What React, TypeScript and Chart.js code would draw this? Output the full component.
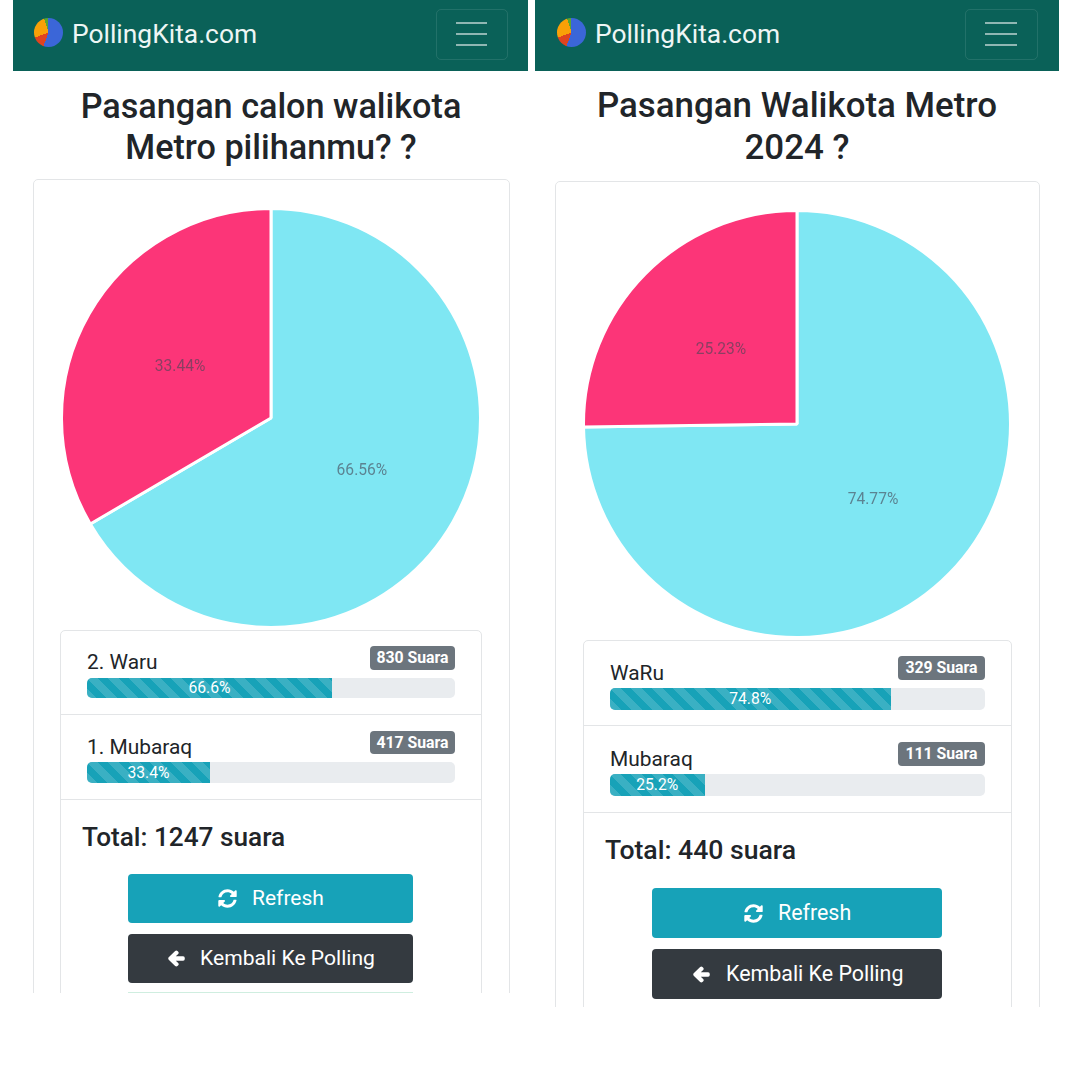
import React, { useEffect, useRef } from "react";
import { Chart, registerables } from "chart.js";

Chart.register(...registerables);

const brandName = "PollingKita.com";
const sliceColors = ["#7fe7f3", "#fc3578"];

const leftTitle = ["Pasangan calon walikota", "Metro pilihanmu? ?"];
const leftLabels = ["2. Waru", "1. Mubaraq"];
const leftVotes = [830, 417];

const rightTitle = ["Pasangan Walikota Metro", "2024 ?"];
const rightLabels = ["WaRu", "Mubaraq"];
const rightVotes = [329, 111];

const refreshText = "Refresh";
const backText = "Kembali Ke Polling";

const FONT = "Roboto, sans-serif";

const labelPlugin = {
  id: "pctLabels",
  afterDatasetsDraw(chart: any) {
    const { ctx } = chart;
    const meta = chart.getDatasetMeta(0);
    const data = chart.data.datasets[0].data as number[];
    const total = data.reduce((a, b) => a + b, 0);
    ctx.save();
    ctx.font = `15.6px ${FONT}`;
    ctx.fillStyle = "rgba(70,70,85,0.62)";
    ctx.textAlign = "center";
    ctx.textBaseline = "middle";
    meta.data.forEach((arc: any, i: number) => {
      const p = arc.getCenterPoint();
      ctx.fillText(((data[i] / total) * 100).toFixed(2) + "%", p.x, p.y + 1);
    });
    ctx.restore();
  },
};

function Pie({ cx, cy, size, labels, values }: any) {
  const ref = useRef<HTMLCanvasElement>(null);
  useEffect(() => {
    const chart = new Chart(ref.current!, {
      type: "pie",
      data: {
        labels,
        datasets: [{ data: values, backgroundColor: sliceColors, borderColor: "#fff", borderWidth: 3 }],
      },
      options: {
        animation: false,
        responsive: false,
        layout: { padding: 0 },
        plugins: { legend: { display: false }, tooltip: { enabled: false }, title: { display: false } },
      },
      plugins: [labelPlugin],
    } as any);
    return () => chart.destroy();
  }, []);
  return (
    <canvas
      ref={ref}
      width={size}
      height={size}
      style={{ position: "absolute", left: cx - size / 2, top: cy - size / 2, width: size, height: size }}
    />
  );
}

function T({ x, cy, size, weight = 400, color = "#212529", align = "left", children }: any) {
  const style: any = {
    position: "absolute",
    top: cy - 30,
    height: 60,
    lineHeight: "60px",
    fontFamily: FONT,
    fontSize: size,
    fontWeight: weight,
    color,
    whiteSpace: "nowrap",
  };
  if (align === "center") {
    style.left = x - 400;
    style.width = 800;
    style.textAlign = "center";
  } else {
    style.left = x;
  }
  return <div style={style}>{children}</div>;
}

function Box(p: any) {
  const { x0, x1, y0, y1, style } = p;
  return (
    <div
      style={{ position: "absolute", boxSizing: "border-box", left: x0, top: y0, width: x1 - x0, height: y1 - y0, ...style }}
    >
      {p.children}
    </div>
  );
}

function Header({ x0, x1, logoX, logoY, textX, btnX0, btnX1 }: any) {
  const barX0 = btnX0 + 20;
  const barW = btnX1 - btnX0 - 41;
  return (
    <>
      <Box x0={x0} x1={x1} y0={0} y1={71} style={{ background: "#0a6158" }} />
      <div
        style={{
          position: "absolute",
          left: logoX - 14.7,
          top: logoY - 14.7,
          width: 29.4,
          height: 29.4,
          borderRadius: "50%",
          background:
            "conic-gradient(#3b66d8 0deg 200deg, #e0431f 200deg 250deg, #f9a007 250deg 342deg, #5da52e 342deg 360deg)",
        }}
      />
      <T x={textX} cy={33.5} size={26.4} color="#eef6f5">
        {brandName}
      </T>
      <Box
        x0={btnX0}
        x1={btnX1}
        y0={9}
        y1={60}
        style={{ border: "1px solid rgba(255,255,255,0.1)", borderRadius: 5 }}
      />
      {[23, 34, 45].map((y) => (
        <Box key={y} x0={barX0} x1={barX0 + barW} y0={y - 1} y1={y + 1} style={{ background: "rgba(255,255,255,0.55)" }} />
      ))}
    </>
  );
}

const line = "#e3e5e7";

function Row({ x0, x1, barY0, barY1, labelCy, label, votes, total, badgeX0, badgeY0, badgeY1 }: any) {
  const pct = (votes / total) * 100;
  const w = x1 - x0;
  const rounded = pct.toFixed(1);
  return (
    <>
      <T x={x0} cy={labelCy} size={20.9}>
        {label}
      </T>
      <Box
        x0={badgeX0}
        x1={x1}
        y0={badgeY0}
        y1={badgeY1}
        style={{ background: "#6c757d", borderRadius: 4, overflow: "hidden" }}
      >
        <div
          style={{
            lineHeight: `${badgeY1 - badgeY0}px`,
            textAlign: "center",
            color: "#fff",
            fontFamily: FONT,
            fontWeight: 700,
            fontSize: 15.8,
            whiteSpace: "nowrap",
          }}
        >
          {votes} Suara
        </div>
      </Box>
      <Box x0={x0} x1={x1} y0={barY0} y1={barY1} style={{ background: "#e9ecef", borderRadius: 5, overflow: "hidden" }}>
        <div
          style={{
            width: (w * Number(rounded)) / 100,
            height: "100%",
            backgroundColor: "#17a2b8",
            backgroundImage:
              "linear-gradient(45deg, rgba(255,255,255,.15) 25%, transparent 25%, transparent 50%, rgba(255,255,255,.15) 50%, rgba(255,255,255,.15) 75%, transparent 75%, transparent)",
            backgroundSize: "21px 21px",
            color: "#fff",
            textAlign: "center",
            lineHeight: `${barY1 - barY0}px`,
            fontFamily: FONT,
            fontSize: 15.7,
          }}
        >
          {rounded}%
        </div>
      </Box>
    </>
  );
}

const refreshPath =
  "M370.72 133.28C339.458 104.008 298.888 87.962 255.848 88c-77.458.068-144.328 53.178-162.791 126.85-1.344 5.363-6.122 9.15-11.651 9.15H24.103c-7.498 0-13.194-6.807-11.807-14.176C33.933 94.924 134.813 8 256 8c66.448 0 126.791 26.136 171.315 68.685L463.03 40.97C478.149 25.851 504 36.559 504 57.941V192c0 13.255-10.745 24-24 24H345.941c-21.382 0-32.09-25.851-16.971-40.971l41.75-41.749zM32 296h134.059c21.382 0 32.09 25.851 16.971 40.971l-41.75 41.75c31.262 29.273 71.835 45.319 114.876 45.28 77.418-.07 144.315-53.144 162.787-126.849 1.344-5.363 6.122-9.15 11.651-9.15h57.304c7.498 0 13.194 6.807 11.807 14.176C478.067 417.076 377.187 504 256 504c-66.448 0-126.791-26.136-171.315-68.685L48.97 471.03C33.851 486.149 8 475.441 8 454.059V320c0-13.255 10.745-24 24-24z";
const arrowPath =
  "M257.5 445.1l-22.2 22.2c-9.4 9.4-24.6 9.4-33.9 0L7 273c-9.4-9.4-9.4-24.6 0-33.9L201.4 44.7c9.4-9.4 24.6-9.4 33.9 0l22.2 22.2c9.5 9.5 9.3 25-.4 34.3L136.6 216H424c13.3 0 24 10.7 24 24v32c0 13.3-10.7 24-24 24H136.6l120.5 114.8c9.8 9.3 10 24.8.4 34.3z";

function Btn({ x0, x1, y0, y1, bg, path, vb, iconCx, textX, text, size, icon = 19, stroke = 0 }: any) {
  const cy = (y0 + y1) / 2;
  return (
    <>
      <Box x0={x0} x1={x1} y0={y0} y1={y1} style={{ background: bg, borderRadius: 4 }} />
      <svg
        viewBox={vb}
        style={{ position: "absolute", left: iconCx - icon / 2, top: cy - icon / 2, width: icon, height: icon, overflow: "visible" }}
      >
        <path d={path} fill="#fff" stroke="#fff" strokeWidth={stroke} strokeLinejoin="round" />
      </svg>
      <T x={textX} cy={cy} size={size} color="#fff">
        {text}
      </T>
    </>
  );
}

function Panel(p: any) {
  const total = p.votes[0] + p.votes[1];
  return (
    <>
      <Header {...p.header} />
      <T x={p.cx} cy={p.titleCy[0]} size={p.titleSize} weight={500} align="center">
        {p.title[0]}
      </T>
      <T x={p.cx} cy={p.titleCy[1]} size={p.titleSize} weight={500} align="center">
        {p.title[1]}
      </T>
      <div
        style={{
          position: "absolute",
          left: p.card[0],
          top: p.card[2],
          width: p.card[1] - p.card[0],
          height: p.clipY - p.card[2],
          overflow: "hidden",
        }}
      >
        <Box
          x0={0}
          x1={p.card[1] - p.card[0]}
          y0={0}
          y1={1200}
          style={{ border: `1px solid ${line}`, borderRadius: 5 }}
        />
        <div style={{ position: "absolute", left: -p.card[0], top: -p.card[2] }}>
          <Box
            x0={p.list[0]}
            x1={p.list[1]}
            y0={p.list[2]}
            y1={p.list[3] + 300}
            style={{ border: `1px solid ${line}`, borderRadius: 5 }}
          />
          <Box x0={p.list[0]} x1={p.list[1]} y0={p.list[4]} y1={p.list[4] + 1} style={{ background: line }} />
          <Box x0={p.list[0]} x1={p.list[1]} y0={p.list[3]} y1={p.list[3] + 1} style={{ background: line }} />
          {p.children}
        </div>
      </div>
      <Pie cx={p.cx} cy={p.pieCy} size={p.pieSize} labels={p.labels} values={p.votes} />
      {p.rows.map((r: any, i: number) => (
        <Row key={i} {...r} label={p.labels[i]} votes={p.votes[i]} total={total} />
      ))}
      <T x={p.totalX} cy={p.totalCy} size={p.totalSize} weight={500}>
        Total: {total} suara
      </T>
    </>
  );
}

export default function App() {
  useEffect(() => {
    document.body.style.margin = "0";
    document.body.style.background = "#fff";
  }, []);
  return (
    <div style={{ position: "relative", width: 1080, height: 1080, overflow: "hidden", background: "#fff" }}>
      <Panel
        cx={271}
        header={{ x0: 13, x1: 528, logoX: 48.5, logoY: 32.5, textX: 72, btnX0: 436, btnX1: 508 }}
        title={leftTitle}
        titleCy={[106, 147]}
        titleSize={34.2}
        card={[32.5, 509.5, 179]}
        clipY={993}
        list={[59.5, 482, 630, 799, 714]}
        pieCy={418}
        pieSize={422}
        labels={leftLabels}
        votes={leftVotes}
        rows={[
          { x0: 87, x1: 455, barY0: 678, barY1: 698, labelCy: 661.5, badgeX0: 370, badgeY0: 646, badgeY1: 670 },
          { x0: 87, x1: 455, barY0: 762, barY1: 783, labelCy: 746.5, badgeX0: 370, badgeY0: 731, badgeY1: 754 },
        ]}
        totalX={82}
        totalCy={836.5}
        totalSize={26.2}
      >
        <Box x0={128} x1={413} y0={992} y1={1000} style={{ background: "#cfeee0" }} />
      </Panel>
      <Btn
        x0={128}
        x1={413}
        y0={873.5}
        y1={922.5}
        bg="#17a2b8"
        path={refreshPath}
        vb="0 0 512 512"
        iconCx={227}
        textX={252}
        text={refreshText}
        size={21}
      />
      <Btn
        x0={128}
        x1={413}
        y0={933.5}
        y1={982.5}
        bg="#343a40"
        path={arrowPath}
        vb="0 0 448 512"
        iconCx={176.5}
        textX={200}
        text={backText}
        size={21.1}
        icon={17}
        stroke={50}
      />

      <Panel
        cx={797}
        header={{ x0: 535, x1: 1059, logoX: 571.5, logoY: 32.5, textX: 595, btnX0: 965, btnX1: 1038 }}
        title={rightTitle}
        titleCy={[106, 148]}
        titleSize={34.9}
        card={[555, 1040, 181]}
        clipY={1007}
        list={[583, 1012, 640, 812, 725]}
        pieCy={424}
        pieSize={430}
        labels={rightLabels}
        votes={rightVotes}
        rows={[
          { x0: 610, x1: 985, barY0: 688, barY1: 710, labelCy: 672.5, badgeX0: 898, badgeY0: 656, badgeY1: 680 },
          { x0: 610, x1: 985, barY0: 774, barY1: 796, labelCy: 758.5, badgeX0: 898, badgeY0: 742, badgeY1: 766 },
        ]}
        totalX={605}
        totalCy={850}
        totalSize={26.6}
      />
      <Btn
        x0={652}
        x1={942}
        y0={888}
        y1={938}
        bg="#17a2b8"
        path={refreshPath}
        vb="0 0 512 512"
        iconCx={753}
        textX={778}
        text={refreshText}
        size={21.4}
      />
      <Btn
        x0={652}
        x1={942}
        y0={949}
        y1={999}
        bg="#343a40"
        path={arrowPath}
        vb="0 0 448 512"
        iconCx={701.5}
        textX={726}
        text={backText}
        size={21.4}
        icon={17}
        stroke={50}
      />
    </div>
  );
}
